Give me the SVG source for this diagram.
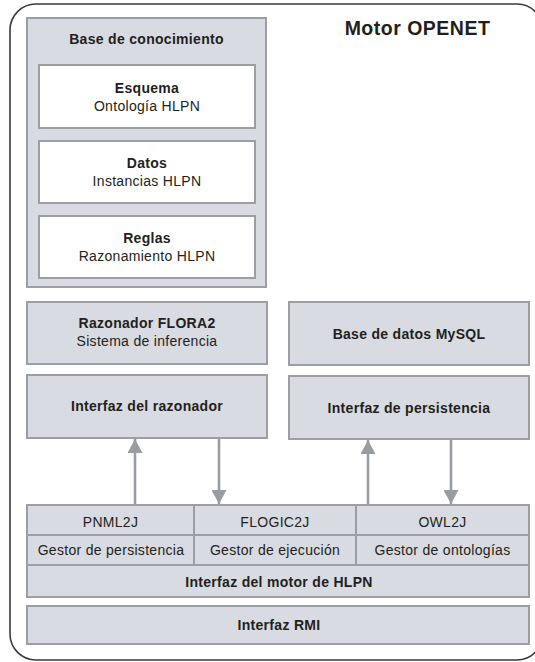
<svg xmlns="http://www.w3.org/2000/svg" width="535" height="662" viewBox="0 0 535 662">
<defs>
<style>
.box{fill:#d8dbe2;stroke:#9b9ea2;stroke-width:2}
.wbox{fill:#ffffff;stroke:#9b9ea2;stroke-width:2}
.line{fill:none;stroke:#9b9ea2;stroke-width:2}
.conn{fill:none;stroke:#999da1;stroke-width:2.6}
.b{font-family:"Liberation Sans",Arial,sans-serif;font-weight:bold;font-size:14px;fill:#231f20;text-anchor:middle;letter-spacing:0.3px}
.r{font-family:"Liberation Sans",Arial,sans-serif;font-size:14px;fill:#231f20;text-anchor:middle;letter-spacing:0.3px}
.title{font-family:"Liberation Sans",Arial,sans-serif;font-weight:bold;font-size:19.5px;fill:#231f20;text-anchor:middle;letter-spacing:0.5px}
</style>
<marker id="ah" viewBox="0 0 14 15" refX="14" refY="7.5" markerWidth="14" markerHeight="15" markerUnits="userSpaceOnUse" orient="auto">
<path d="M0,0 L14,7.5 L0,15 Z" fill="#999da1"/>
</marker>
</defs>
<g id="frame">
<rect x="10" y="4" width="533" height="656" rx="26" ry="26" fill="#ffffff" stroke="#3a3a3a" stroke-width="1.6"/>
<text class="title" x="417.5" y="35">Motor OPENET</text>
</g>
<g id="base-conocimiento">
<rect class="box" x="27" y="18" width="239" height="269"/>
<text class="b" x="146.5" y="44">Base de conocimiento</text>
</g>
<g id="esquema">
<rect class="wbox" x="39" y="65" width="216" height="63"/>
<text class="b" x="147" y="93">Esquema</text>
<text class="r" x="147" y="111">Ontología HLPN</text>
</g>
<g id="datos">
<rect class="wbox" x="39" y="141" width="216" height="62"/>
<text class="b" x="147" y="168">Datos</text>
<text class="r" x="147" y="186">Instancias HLPN</text>
</g>
<g id="reglas">
<rect class="wbox" x="39" y="216" width="216" height="62"/>
<text class="b" x="147" y="243">Reglas</text>
<text class="r" x="147" y="261">Razonamiento HLPN</text>
</g>
<g id="razonador">
<rect class="box" x="27" y="302" width="240" height="62"/>
<text class="b" x="147" y="328">Razonador FLORA2</text>
<text class="r" x="147" y="346">Sistema de inferencia</text>
</g>
<g id="interfaz-razonador">
<rect class="box" x="27" y="375" width="240" height="63"/>
<text class="b" x="147" y="411">Interfaz del razonador</text>
</g>
<g id="mysql">
<rect class="box" x="289" y="302" width="240" height="63"/>
<text class="b" x="409" y="339">Base de datos MySQL</text>
</g>
<g id="interfaz-persistencia">
<rect class="box" x="289" y="376" width="240" height="63"/>
<text class="b" x="409" y="413">Interfaz de persistencia</text>
</g>
<g id="motor-hlpn">
<rect class="box" x="27" y="505" width="502" height="92"/>
<line class="line" x1="27" y1="535" x2="529" y2="535"/>
<line class="line" x1="27" y1="565" x2="529" y2="565"/>
<line class="line" x1="194" y1="505" x2="194" y2="565"/>
<line class="line" x1="356" y1="505" x2="356" y2="565"/>
<text class="r" x="110.5" y="527">PNML2J</text>
<text class="r" x="275" y="527">FLOGIC2J</text>
<text class="r" x="442.5" y="527">OWL2J</text>
<text class="r" x="111" y="555">Gestor de persistencia</text>
<text class="r" x="275" y="555">Gestor de ejecución</text>
<text class="r" x="442.5" y="555">Gestor de ontologías</text>
<text class="b" x="279" y="587">Interfaz del motor de HLPN</text>
</g>
<g id="rmi">
<rect class="box" x="27" y="606" width="502" height="38"/>
<text class="b" x="279" y="630">Interfaz RMI</text>
</g>
<g id="connectors">
<line class="conn" x1="135" y1="504" x2="135" y2="439" marker-end="url(#ah)"/>
<line class="conn" x1="219" y1="439" x2="219" y2="504" marker-end="url(#ah)"/>
<line class="conn" x1="368" y1="504" x2="368" y2="440" marker-end="url(#ah)"/>
<line class="conn" x1="451" y1="440" x2="451" y2="504" marker-end="url(#ah)"/>
</g>
</svg>
